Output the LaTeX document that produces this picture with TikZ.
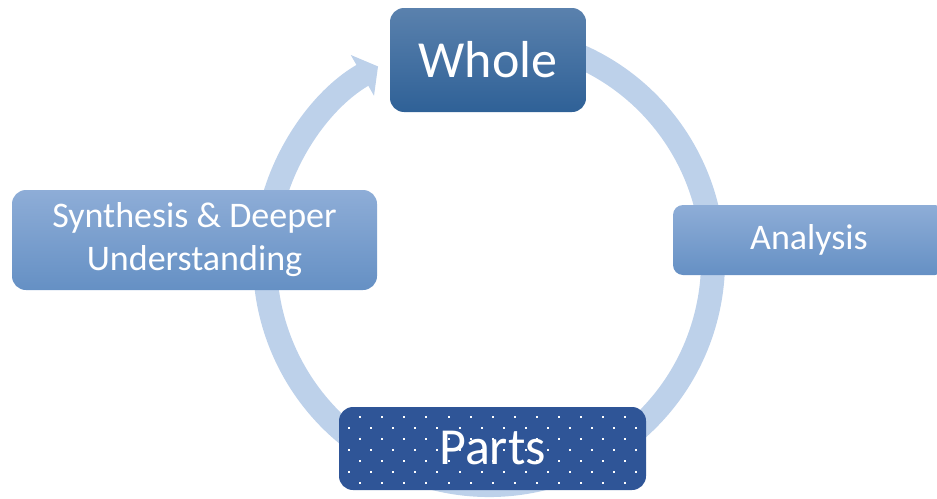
\documentclass[tikz,border=0pt]{standalone}
\usepackage{fontspec}
\setmainfont{Carlito}
\usetikzlibrary{arrows.meta,calc}

\definecolor{ringblue}{HTML}{BDD1EA}
\definecolor{wholetop}{HTML}{5A81AD}
\definecolor{wholebot}{HTML}{2F6197}
\definecolor{lighttop}{HTML}{8EADD7}
\definecolor{lightbot}{HTML}{6590C4}
\definecolor{partsblue}{HTML}{2F5597}

\begin{document}
\begin{tikzpicture}[
	x=1pt, y=-1pt,
	box/.style={rounded corners=14pt, inner sep=0pt, text=white, align=center},
	darkbox/.style={box, top color=wholetop, bottom color=wholebot},
	lightbox/.style={box, top color=lighttop, bottom color=lightbot},
	big/.style={font=\fontsize{52}{62}\selectfont},
	mid/.style={font=\fontsize{36}{43}\selectfont},
	ring/.style={draw=ringblue, line width=24pt, -{Triangle[width=46pt,length=18pt]}}
]
\useasboundingbox (0,0) rectangle (937,498);

% Cycle ring (clockwise, ends in an arrow back at the top)
\coordinate (ringc) at (489,261);
\coordinate (ringstart) at ($(ringc)+(-75:224)$);
\draw[ring] (ringstart) arc[start angle=-75, end angle=240.3, radius=224];

% Stages
\node[darkbox, big, minimum width=196pt, minimum height=104pt] (whole) at (488,60) {Whole};
\node[lightbox, mid, rounded corners=10pt, minimum width=272pt, minimum height=70pt] (analysis) at (809,240) {Analysis};
\node[lightbox, mid, minimum width=365pt, minimum height=100pt] (synth) at (194.5,240) {Synthesis \& Deeper\\Understanding};
\node[box, fill=partsblue, minimum width=307pt, minimum height=83pt] (parts) at (492.5,448.5) {};

% Dotted pattern on the parts box
\begin{scope}
\clip[rounded corners=14pt] (parts.north west) rectangle (parts.south east);
\foreach \j in {1,...,7}
	\foreach \k in {0,...,14} {
		\pgfmathsetmacro\dx{338+22.1*\k+11.05*mod(\j+1,2)}
		\pgfmathsetmacro\dy{405.7+11*\j}
		\fill[white] (\dx-1,\dy-1) rectangle ++(2,2);
	}
\end{scope}
\node[big, text=white] (partslabel) at (parts.center) {Parts};
\end{tikzpicture}
\end{document}
